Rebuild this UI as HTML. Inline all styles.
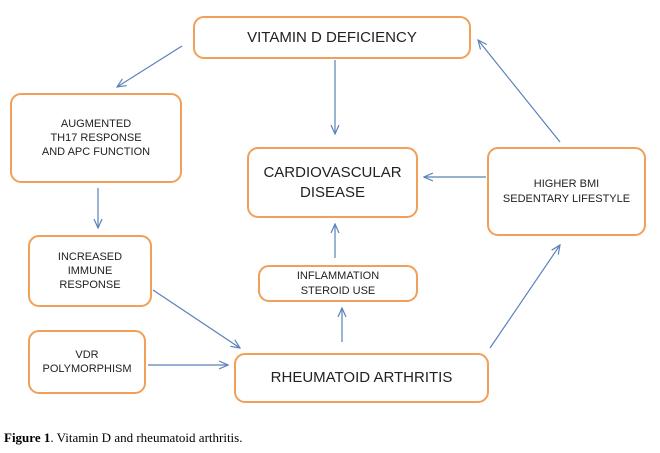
<!DOCTYPE html>
<html><head><style>
body{margin:0;width:660px;height:453px;background:#fff;position:relative;overflow:hidden;font-family:"Liberation Sans",sans-serif;}
.b{position:absolute;box-sizing:border-box;border:2.5px solid #F0A058;border-radius:11px;display:flex;align-items:center;justify-content:center;text-align:center;color:#222;background:#fff;line-height:1.3;}
.s{font-size:11px}
.l{font-size:15px}
svg{position:absolute;left:0;top:0}
.cap{position:absolute;left:4px;top:430px;font-family:"Liberation Serif",serif;font-size:13px;color:#000}
</style></head><body>
<svg width="660" height="453">
<defs><marker id="a" markerWidth="10" markerHeight="10" refX="9" refY="5" orient="auto" markerUnits="userSpaceOnUse"><path d="M0,1 L9,5 L0,9" fill="none" stroke="#5A82B8" stroke-width="1.2"/></marker></defs>
<g stroke="#5A82B8" stroke-width="1.2" fill="none" marker-end="url(#a)">
<line x1="182" y1="46" x2="117" y2="87"/>
<line x1="335" y1="60" x2="335" y2="134"/>
<line x1="98" y1="188" x2="98" y2="228"/>
<line x1="486" y1="177" x2="424" y2="177"/>
<line x1="560" y1="142" x2="478" y2="40"/>
<line x1="335" y1="258" x2="335" y2="224"/>
<line x1="342" y1="342" x2="342" y2="308"/>
<line x1="153" y1="290" x2="240" y2="348"/>
<line x1="148" y1="365" x2="228" y2="365"/>
<line x1="490" y1="348" x2="560" y2="245"/>
</g>
</svg>
<div class="b l" style="left:193px;top:16px;width:278px;height:43px;">VITAMIN D DEFICIENCY</div>
<div class="b s" style="left:10px;top:93px;width:172px;height:90px;">AUGMENTED<br>TH17 RESPONSE<br>AND APC FUNCTION</div>
<div class="b l" style="left:247px;top:147px;width:171px;height:71px;">CARDIOVASCULAR<br>DISEASE</div>
<div class="b s" style="left:487px;top:147px;width:159px;height:89px;">HIGHER BMI<br>SEDENTARY LIFESTYLE</div>
<div class="b s" style="left:28px;top:235px;width:124px;height:72px;">INCREASED<br>IMMUNE<br>RESPONSE</div>
<div class="b s" style="left:258px;top:265px;width:160px;height:37px;">INFLAMMATION<br>STEROID USE</div>
<div class="b s" style="left:28px;top:330px;width:118px;height:64px;">VDR<br>POLYMORPHISM</div>
<div class="b l" style="left:234px;top:353px;width:255px;height:50px;">RHEUMATOID ARTHRITIS</div>
<div class="cap"><b>Figure 1</b>. Vitamin D and rheumatoid arthritis.</div>
</body></html>
